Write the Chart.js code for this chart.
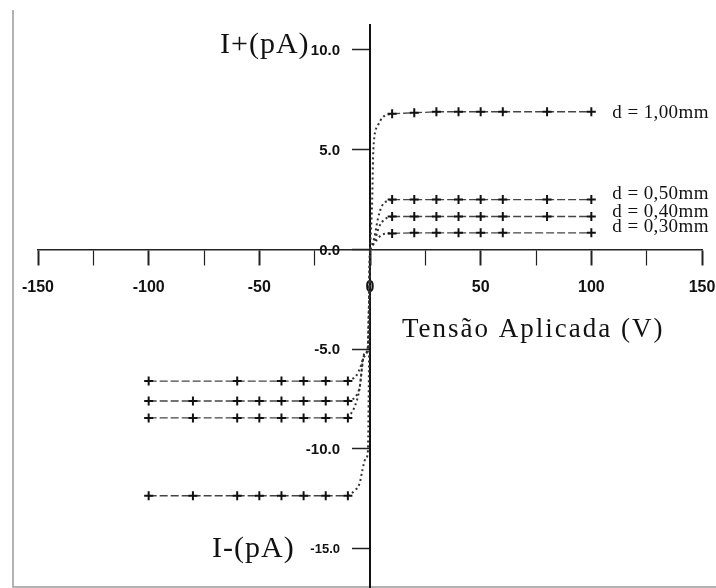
<!DOCTYPE html>
<html>
<head>
<meta charset="utf-8">
<title>I x V</title>
<script src="https://cdn.jsdelivr.net/npm/chart.js@4.4.1/dist/chart.umd.min.js"></script>
<style>
  html, body { margin: 0; padding: 0; background: #fff; }
  canvas { display: block; }
</style>
</head>
<body>
<canvas id="chart" width="716" height="588"></canvas>
<script>
// tensão aplicada (V) nos pontos medidos
const vPos = [10, 20, 30, 40, 50, 60, 80, 100];
const vPos030 = [10, 20, 30, 40, 50, 60, 100];
const vNeg = [-100, -80, -60, -50, -40, -30, -20, -10];
const vNeg030 = [-100, -60, -40, -30, -20, -10];

// corrente positiva (pA)
const iPos100 = [6.8, 6.85, 6.9, 6.9, 6.9, 6.9, 6.9, 6.9];
const iPos050 = [2.5, 2.5, 2.5, 2.5, 2.5, 2.5, 2.5, 2.5];
const iPos040 = [1.65, 1.65, 1.65, 1.65, 1.65, 1.65, 1.65, 1.65];
const iPos030 = [0.8, 0.83, 0.83, 0.83, 0.83, 0.83, 0.83];

// corrente negativa (pA)
const iNeg030 = [-6.6, -6.6, -6.6, -6.6, -6.6, -6.6];
const iNeg040 = [-7.6, -7.6, -7.6, -7.6, -7.6, -7.6, -7.6, -7.6];
const iNeg050 = [-8.45, -8.45, -8.45, -8.45, -8.45, -8.45, -8.45, -8.45];
const iNeg100 = [-12.35, -12.35, -12.35, -12.35, -12.35, -12.35, -12.35, -12.35];

// curvas de ajuste perto da origem
const fitPos100V = [0, 1, 1.5, 3.5, 6, 10];
const fitPos100I = [0, 2.5, 5, 6.2, 6.65, 6.8];
const fitPos050V = [0, 2, 3.5, 5.5, 10];
const fitPos050I = [0, 0.6, 1.5, 2.2, 2.5];
const fitPos040V = [0, 2, 4, 6.5, 10];
const fitPos040I = [0, 0.4, 1.1, 1.5, 1.65];
const fitPos030V = [0, 2.5, 5, 10];
const fitPos030I = [0, 0.4, 0.7, 0.83];

const fitNeg030V = [-10, -6, -4, -2.5, -1, 0];
const fitNeg030I = [-6.6, -6.3, -5.8, -5.3, -4.9, 0];
const fitNeg040V = [-10, -6, -4.5, -3.8, -3, -1, 0];
const fitNeg040I = [-7.6, -7.3, -6.8, -6.1, -5.4, -5, 0];
const fitNeg050V = [-10, -7, -4.6, -3.5, -2.5, -1, 0];
const fitNeg050I = [-8.45, -7.9, -6.9, -5.8, -5.2, -5, 0];
const fitNeg100V = [-10, -7, -4.6, -3.5, -2, -1, 0];
const fitNeg100I = [-12.35, -12.1, -11.7, -11.1, -10.5, -10.2, 0];

const xTicks = [-150, -100, -50, 0, 50, 100, 150];
const yTicks = [-15, -10, -5, 0, 5, 10];

// rótulos das espessuras, ao lado do último ponto de cada série positiva
const thickLabels = ['d = 1,00mm', 'd = 0,50mm', 'd = 0,40mm', 'd = 0,30mm'];

const zip = (xs, ys) => xs.map((x, i) => ({ x, y: ys[i] }));

const markerSet = (label, xs, ys) => ({
  label,
  data: zip(xs, ys),
  borderColor: '#444',
  borderWidth: 1.3,
  borderDash: [8, 3],
  pointStyle: 'cross',
  pointRadius: 4.5,
  pointBorderWidth: 2,
  pointBorderColor: '#111',
  pointBackgroundColor: '#111',
  tension: 0
});

const fitSet = (xs, ys) => ({
  label: 'ajuste',
  data: zip(xs, ys),
  borderColor: '#333',
  borderWidth: 2,
  borderDash: [2, 3],
  pointRadius: 0,
  cubicInterpolationMode: 'monotone'
});

const serif = "'Liberation Serif', 'Times New Roman', serif";
const sans = "'Liberation Sans', Arial, sans-serif";

// os eixos cruzados não devem roubar espaço da área do gráfico
const noPad = (s) => {
  s.paddingLeft = 0;
  s.paddingRight = 0;
  s.paddingTop = 0;
  s.paddingBottom = 0;
};

const textPlugin = {
  id: 'figText',
  beforeDraw(chart) {
    const ctx = chart.ctx;
    ctx.save();
    ctx.strokeStyle = '#999';
    ctx.lineWidth = 1.5;
    ctx.beginPath();
    ctx.moveTo(13, 10);
    ctx.lineTo(13, 587);
    ctx.lineTo(chart.width, 587);
    ctx.stroke();
    ctx.restore();
  },
  afterDraw(chart) {
    const { ctx, scales: { x, y } } = chart;
    const x0 = x.getPixelForValue(0);
    ctx.save();

    // o eixo vertical desce até a borda inferior
    ctx.strokeStyle = '#111';
    ctx.lineWidth = 2;
    ctx.beginPath();
    ctx.moveTo(x0, y.bottom - 1);
    ctx.lineTo(x0, chart.height);
    ctx.stroke();

    ctx.fillStyle = '#111';

    // rótulos do eixo das correntes, à esquerda das marcas
    ctx.textAlign = 'right';
    ctx.textBaseline = 'middle';
    yTicks.forEach((v) => {
      ctx.font = (v === -15 ? 'bold 13px ' : 'bold 15px ') + sans;
      ctx.fillText(v.toFixed(1), x0 - 30, y.getPixelForValue(v) + 1);
    });

    ctx.textAlign = 'left';
    ctx.textBaseline = 'alphabetic';
    ctx.font = '30px ' + serif;
    ctx.letterSpacing = '1px';
    ctx.fillText('I+(pA)', x0 - 150, y.getPixelForValue(10) + 3);
    ctx.fillText('I-(pA)', x0 - 158, y.getPixelForValue(-15) + 8);

    ctx.font = '27px ' + serif;
    ctx.letterSpacing = '2px';
    ctx.fillText('Tensão Aplicada (V)', x0 + 32, y.getPixelForValue(-4.4));

    ctx.font = '19px ' + serif;
    ctx.letterSpacing = '0.4px';
    ctx.textBaseline = 'middle';
    const lastPos = [iPos100, iPos050, iPos040, iPos030];
    const nudge = [1.5, -6, -4.5, -6];
    lastPos.forEach((arr, k) => {
      const py = y.getPixelForValue(arr[arr.length - 1]) + nudge[k];
      ctx.fillText(thickLabels[k], x.getPixelForValue(100) + 21, py);
    });
    ctx.restore();
  }
};

new Chart(document.getElementById('chart'), {
  type: 'line',
  data: {
    datasets: [
      markerSet(thickLabels[0], vPos, iPos100),
      markerSet(thickLabels[1], vPos, iPos050),
      markerSet(thickLabels[2], vPos, iPos040),
      markerSet(thickLabels[3], vPos030, iPos030),
      markerSet(thickLabels[3], vNeg030, iNeg030),
      markerSet(thickLabels[2], vNeg, iNeg040),
      markerSet(thickLabels[1], vNeg, iNeg050),
      markerSet(thickLabels[0], vNeg, iNeg100),
      fitSet(fitPos100V, fitPos100I),
      fitSet(fitPos050V, fitPos050I),
      fitSet(fitPos040V, fitPos040I),
      fitSet(fitPos030V, fitPos030I),
      fitSet(fitNeg030V, fitNeg030I),
      fitSet(fitNeg040V, fitNeg040I),
      fitSet(fitNeg050V, fitNeg050I),
      fitSet(fitNeg100V, fitNeg100I)
    ]
  },
  options: {
    responsive: false,
    animation: false,
    devicePixelRatio: 1,
    layout: { padding: { left: 38, right: 14, top: 25, bottom: 0 } },
    plugins: { legend: { display: false }, tooltip: { enabled: false } },
    scales: {
      x: {
        type: 'linear',
        position: { y: 0 },
        min: -150,
        max: 150,
        afterBuildTicks: (s) => {
          const t = [];
          for (let v = xTicks[0]; v <= xTicks[xTicks.length - 1]; v += 25) t.push({ value: v });
          s.ticks = t;
        },
        afterFit: noPad,
        border: { display: true, color: '#222', width: 1.5 },
        grid: {
          drawOnChartArea: false,
          drawTicks: true,
          tickLength: 15,
          tickColor: '#222',
          tickWidth: (c) => (xTicks.includes(c.tick.value) ? 2 : 1.2)
        },
        ticks: {
          autoSkip: false,
          maxRotation: 0,
          padding: 14,
          color: '#111',
          font: { family: sans, size: 16, weight: 'bold' },
          callback: (v) => (xTicks.includes(v) ? String(v) : '')
        }
      },
      y: {
        type: 'linear',
        position: { x: 0 },
        min: -16.65,
        max: 11.25,
        afterBuildTicks: (s) => { s.ticks = yTicks.map((v) => ({ value: v })); },
        afterFit: noPad,
        border: { display: true, color: '#111', width: 2 },
        grid: {
          drawOnChartArea: false,
          drawTicks: true,
          tickLength: 17,
          tickColor: '#222',
          tickWidth: 1.5
        },
        ticks: { display: false }
      }
    }
  },
  plugins: [textPlugin]
});
</script>
</body>
</html>
